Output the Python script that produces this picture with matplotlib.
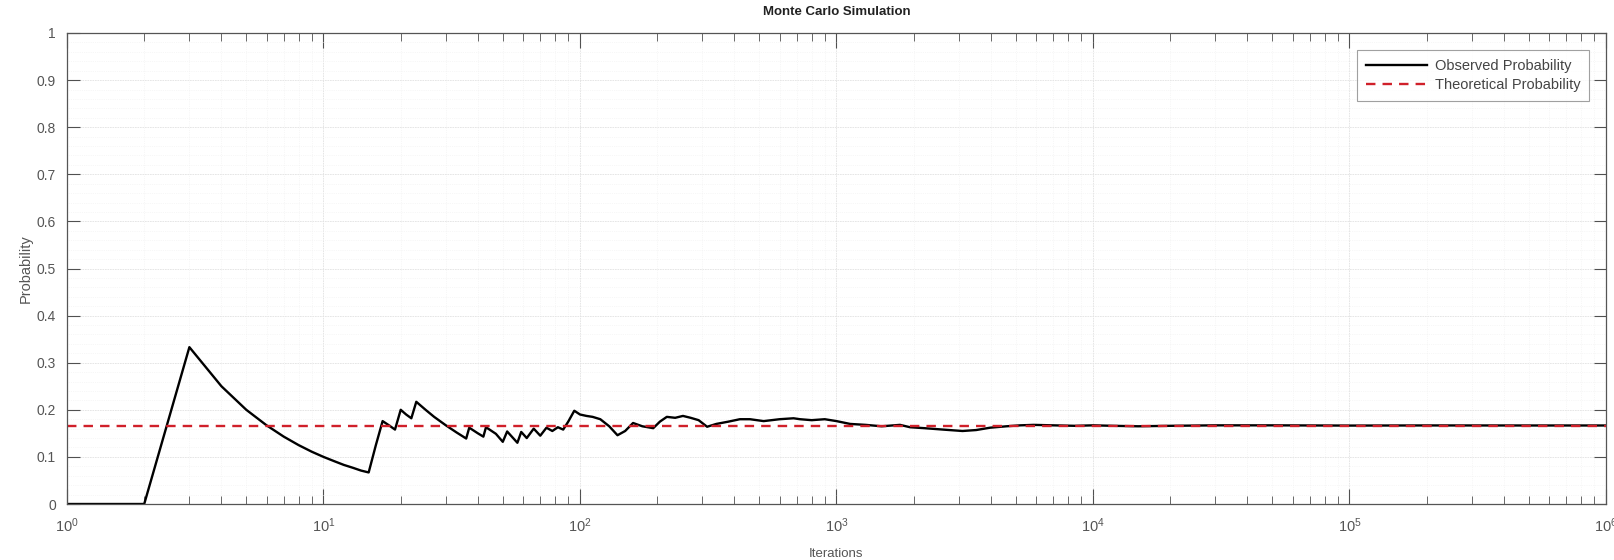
import matplotlib
matplotlib.use("Agg")
import matplotlib.pyplot as plt
from matplotlib.ticker import LogLocator, NullFormatter, MultipleLocator

plt.rcParams['font.family'] = ['Liberation Sans', 'DejaVu Sans']

# running estimate (iteration, probability)
iterations = [1, 2, 3, 4, 5, 6, 7, 8, 9, 10,
              11, 12, 13, 14, 15, 16, 17, 18, 19, 20,
              21, 22, 23, 25, 27, 30, 33, 36, 37, 40,
              42, 43, 47, 50, 52, 57, 59, 62, 66, 70,
              74, 78, 82, 86, 90, 95, 100, 106, 112, 120,
              130, 140, 150, 161, 175, 193, 205, 218, 235, 252,
              270, 290, 313, 340, 380, 420, 460, 520, 600, 680,
              721, 800, 900, 1000, 1130, 1300, 1500, 1768, 1935, 2200,
              2600, 3100, 3500, 3970, 4600, 5200, 5870, 7000, 8500, 10000,
              12000, 15000, 20000, 30000, 50000, 100000, 200000, 500000, 1000000]
observed = [0.0, 0.0, 0.333, 0.25, 0.2, 0.167, 0.143, 0.125, 0.111, 0.1,
            0.091, 0.083, 0.077, 0.071, 0.067, 0.125, 0.176, 0.167, 0.158, 0.2,
            0.19, 0.182, 0.217, 0.2, 0.185, 0.167, 0.152, 0.139, 0.162, 0.15,
            0.143, 0.163, 0.149, 0.132, 0.154, 0.13, 0.153, 0.14, 0.16, 0.145,
            0.162, 0.155, 0.163, 0.158, 0.175, 0.198, 0.19, 0.187, 0.185, 0.18,
            0.165, 0.146, 0.155, 0.172, 0.165, 0.161, 0.175, 0.185, 0.183, 0.187,
            0.183, 0.178, 0.164, 0.17, 0.175, 0.18, 0.18, 0.176, 0.18, 0.182,
            0.18, 0.178, 0.18, 0.176, 0.17, 0.168, 0.165, 0.168, 0.163, 0.161,
            0.158, 0.155, 0.157, 0.162, 0.165, 0.167, 0.168, 0.167, 0.166, 0.167,
            0.166, 0.165, 0.166, 0.167, 0.167, 0.1665, 0.1668, 0.1667, 0.1667]
theoretical = 1 / 6
ytick_labels = ["0", "0.1", "0.2", "0.3", "0.4", "0.5", "0.6", "0.7", "0.8", "0.9", "1"]

fig = plt.figure(figsize=(16.15, 5.6), dpi=100)
ax = fig.add_axes([67 / 1615, 1 - 504 / 560, (1606 - 67) / 1615, (504 - 33) / 560])

ax.plot(iterations, observed, color="black", linewidth=1.7, label="Observed Probability")
ax.axhline(theoretical, color="#d0202a", linestyle=(0, (4, 3)), linewidth=1.7,
           label="Theoretical Probability")

ax.set_xscale("log")
ax.set_xlim(1, 1e6)
ax.set_ylim(0, 1)
ax.set_yticks([i / 10 for i in range(11)])
ax.set_yticklabels(ytick_labels)
ax.yaxis.set_minor_locator(MultipleLocator(0.02))
ax.xaxis.set_major_locator(LogLocator(base=10, numticks=10))
ax.xaxis.set_minor_locator(LogLocator(base=10, subs=range(2, 10), numticks=100))
ax.xaxis.set_minor_formatter(NullFormatter())

ax.grid(True, which="major", color="#e2e2e2", linewidth=0.6, linestyle=(0, (2, 1)))
ax.grid(True, which="minor", color="#f0f0f0", linewidth=0.5, linestyle=":")
ax.tick_params(which="both", direction="in", top=True, right=True, colors="#505050",
               labelcolor="#555555")
ax.tick_params(axis="x", which="major", length=11, labelsize=10.5, pad=9)
ax.tick_params(axis="x", which="minor", length=6)
ax.tick_params(axis="y", which="major", length=9, labelsize=10, pad=8)
ax.tick_params(axis="y", which="minor", length=0)
for s in ax.spines.values():
    s.set_color("#555555")
    s.set_linewidth(0.9)

ax.set_title("Monte Carlo Simulation", fontsize=9.5, fontweight="bold", color="#222222", pad=13)
ax.set_xlabel("Iterations", fontsize=9.5, color="#555555", labelpad=9)
ax.set_ylabel("Probability", fontsize=10.5, color="#555555", labelpad=3)

leg = ax.legend(loc="upper right", bbox_to_anchor=(0.989, 0.964), borderaxespad=0,
                fontsize=10.5, frameon=True, fancybox=False, edgecolor="#888888",
                handlelength=4.2, handletextpad=0.5, borderpad=0.6, labelspacing=0.35)
leg.get_frame().set_linewidth(0.8)
for t in leg.get_texts():
    t.set_color("#444444")

fig.savefig("out.png", dpi=100, facecolor="white")
